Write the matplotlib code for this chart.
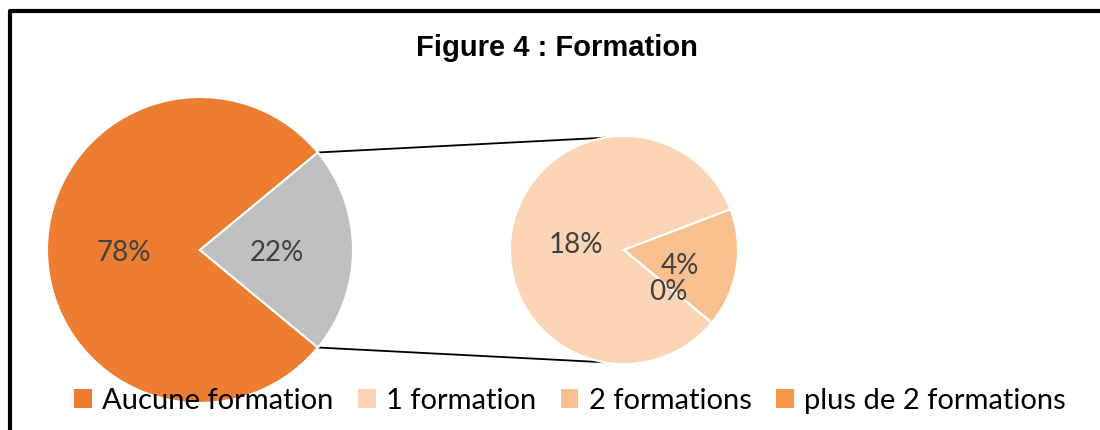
import numpy as np
import matplotlib
matplotlib.use("Agg")
import matplotlib.pyplot as plt
from matplotlib.lines import Line2D

# data
main_labels = ["Aucune formation", "Autre"]
main_values = [78, 22]
sub_labels = ["1 formation", "2 formations", "plus de 2 formations"]
sub_values = [18.3, 3.7, 0.0]
main_text = ["78%", "22%"]
sub_text = ["18%", "4%", "0%"]

main_colors = ["#ED7D31", "#BFBFBF"]
sub_colors = ["#FBD5B5", "#F9C08F", "#F79646"]

fig = plt.figure(figsize=(11, 4.3), dpi=100)
ax = fig.add_axes([0, 0, 1, 1])

lab_font = dict(family=["Lato", "DejaVu Sans"], size=20, color="#404040")

# left pie, the "other" slice centred on the right side
c1, r1 = (200, 180), 153
other_frac = main_values[1] / sum(main_values)
start1 = -other_frac * 180
w1, _ = ax.pie(main_values, colors=main_colors, center=c1, radius=r1,
               startangle=start1, counterclock=False,
               wedgeprops=dict(edgecolor="white", linewidth=1.5), frame=True)
for w, t in zip(w1, main_text):
    a = np.deg2rad((w.theta1 + w.theta2) / 2)
    ax.text(c1[0] + 0.5 * r1 * np.cos(a), c1[1] + 0.5 * r1 * np.sin(a) - 3, t,
            ha="center", va="center", **lab_font)

# right pie (breakdown of the grey slice)
c2, r2 = (624, 180), 114
w2, _ = ax.pie(sub_values, colors=sub_colors, center=c2, radius=r2,
               startangle=start1, counterclock=False,
               wedgeprops=dict(edgecolor="white", linewidth=1.5), frame=True)
dist = [0.43, 0.5, 0.5]
shift = [-3, -7, -6]
for w, t, d, s in zip(w2, sub_text, dist, shift):
    a = np.deg2rad((w.theta1 + w.theta2) / 2)
    ax.text(c2[0] + d * r2 * np.cos(a), c2[1] + d * r2 * np.sin(a) + s, t,
            ha="center", va="center", **lab_font)

ax.set_xlim(0, 1100)
ax.set_ylim(0, 430)
ax.set_aspect("equal")
ax.axis("off")

# connector lines
for sgn in (1, -1):
    a1 = np.deg2rad(sgn * other_frac * 180)
    a2 = np.deg2rad(sgn * 100)
    ax.plot([c1[0] + r1 * np.cos(a1), c2[0] + r2 * np.cos(a2)],
            [c1[1] + r1 * np.sin(a1), c2[1] + r2 * np.sin(a2)],
            color="black", linewidth=1.3, zorder=0)

# border
ax.add_line(Line2D([9.5, 9.5, 1100], [0, 419, 419], color="black", linewidth=3))

ax.text(557, 382, "Figure 4 : Formation", ha="center", va="center",
        family=["Liberation Sans", "DejaVu Sans"], fontsize=21, fontweight="bold")

handles = [w1[0]] + list(w2)
leg = ax.legend(handles, [main_labels[0]] + sub_labels, loc="center",
                bbox_to_anchor=(570, 29), bbox_transform=ax.transData,
                ncol=4, frameon=False, handlelength=0.6, handleheight=0.6,
                handletextpad=0.35, columnspacing=0.85,
                prop=dict(family=["Lato", "DejaVu Sans"], size=21))
leg.set_zorder(10)
for p in leg.get_patches():
    p.set_edgecolor("none")

fig.savefig("out.png", dpi=100)
